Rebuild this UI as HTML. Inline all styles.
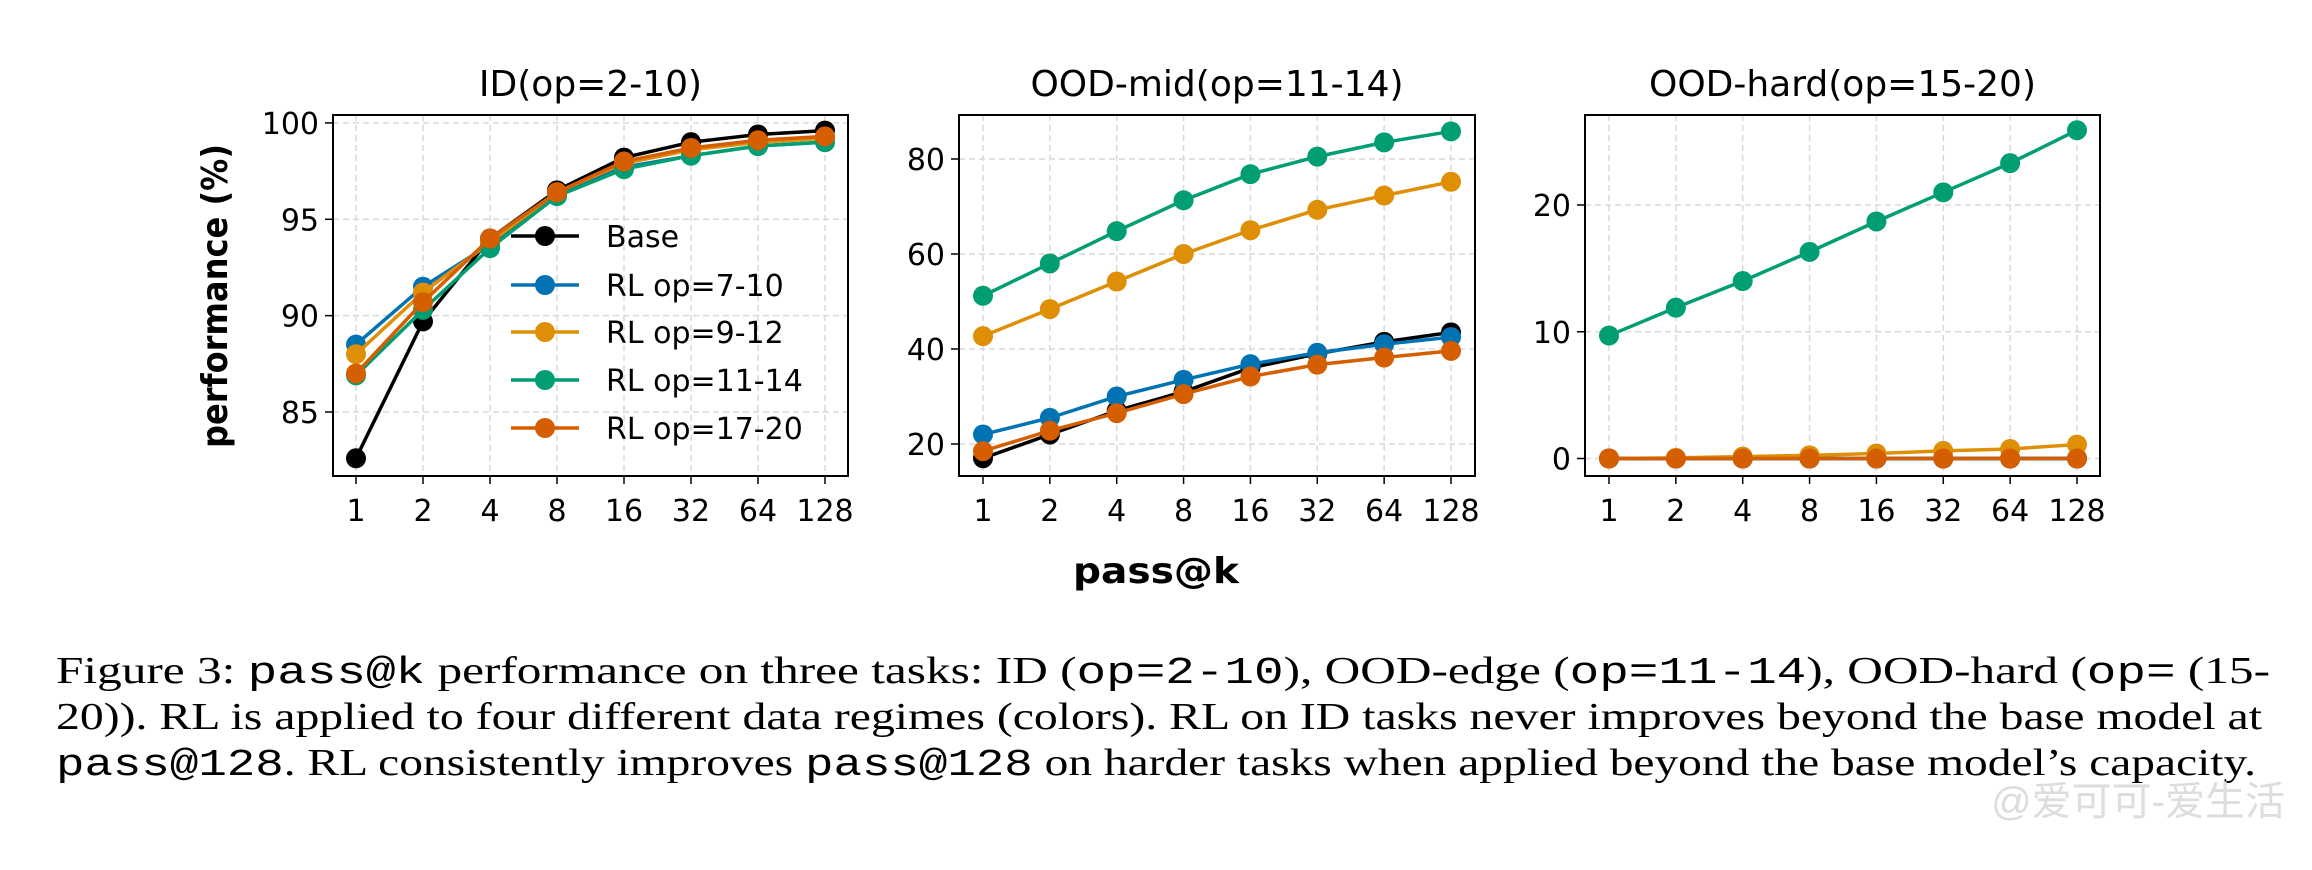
<!DOCTYPE html>
<html><head><meta charset="utf-8">
<style>
html,body{margin:0;padding:0;background:#fff;}
svg{display:block;}
.tick{font-family:"DejaVu Sans","Liberation Sans",sans-serif;font-size:30px;fill:#000;}
.ttl{font-family:"DejaVu Sans","Liberation Sans",sans-serif;font-size:36px;fill:#000;}
.cap{font-family:"Liberation Serif",serif;font-size:38px;fill:#000;}
.mono{font-family:"Liberation Mono",monospace;}
</style></head>
<body>
<svg id="fig" width="2312" height="870" viewBox="0 0 2312 870" xmlns="http://www.w3.org/2000/svg">
<g id="plots"></g>
<text class="ttl" x="1156" y="583" text-anchor="middle" font-weight="bold" font-size="32" textLength="166" lengthAdjust="spacingAndGlyphs">pass@k</text>
<text class="ttl" transform="translate(227,296) rotate(-90)" text-anchor="middle" font-weight="bold" font-size="28" textLength="304" lengthAdjust="spacingAndGlyphs">performance (%)</text>
<text class="cap" x="56" y="683" textLength="2214" lengthAdjust="spacingAndGlyphs">Figure 3: <tspan class="mono">pass@k</tspan> performance on three tasks: ID (<tspan class="mono">op=2-10</tspan>), OOD-edge (<tspan class="mono">op=11-14</tspan>), OOD-hard (<tspan class="mono">op=</tspan> (15-</text>
<text class="cap" x="56" y="729" textLength="2206" lengthAdjust="spacingAndGlyphs">20)). RL is applied to four different data regimes (colors). RL on ID tasks never improves beyond the base model at</text>
<text class="cap" x="56" y="775" textLength="2200" lengthAdjust="spacingAndGlyphs"><tspan class="mono">pass@128</tspan>. RL consistently improves <tspan class="mono">pass@128</tspan> on harder tasks when applied beyond the base model’s capacity.</text>
<text x="2285" y="815" text-anchor="end" font-family="'Liberation Sans','Noto Sans CJK SC',sans-serif" font-size="40" fill="#ddd">@爱可可-爱生活</text>
</svg>
<script>
const kLabels = ["1","2","4","8","16","32","64","128"];
const seriesNames = ["Base","RL op=7-10","RL op=9-12","RL op=11-14","RL op=17-20"];
const seriesColors = ["#000000","#0173b2","#de8f05","#029e73","#d55e00"];
const idBase = [82.6,89.7,94.0,96.5,98.2,99.0,99.4,99.6];
const idRL710 = [88.5,91.5,93.7,96.3,97.7,98.3,98.8,99.0];
const idRL912 = [88.0,91.2,93.8,96.4,97.9,98.6,99.0,99.2];
const idRL1114 = [86.9,90.3,93.5,96.2,97.6,98.3,98.8,99.0];
const idRL1720 = [87.0,90.7,94.0,96.4,98.0,98.7,99.1,99.3];
const midBase = [17,22,27,31,36,39,41.5,43.5];
const midRL710 = [22,25.5,30,33.5,36.8,39.2,41,42.5];
const midRL912 = [42.7,48.4,54.2,60,65,69.3,72.3,75.2];
const midRL1114 = [51.2,58,64.8,71.3,76.8,80.5,83.5,85.8];
const midRL1720 = [18.5,22.8,26.5,30.5,34.2,36.7,38.2,39.6];
const hardBase = [0,0,0,0,0,0,0,0];
const hardRL710 = [0,0,0,0,0,0,0,0];
const hardRL912 = [0,0.05,0.15,0.25,0.4,0.6,0.75,1.1];
const hardRL1114 = [9.7,11.9,14,16.3,18.7,21,23.3,25.9];
const hardRL1720 = [0,0,0,0,0,0,0,0];
const idTicks = [85,90,95,100];
const midTicks = [20,40,60,80];
const hardTicks = [0,10,20];

const NS="http://www.w3.org/2000/svg";
const root=document.getElementById('plots');
function mk(tag,attrs,parent){const e=document.createElementNS(NS,tag);for(const k in attrs)e.setAttribute(k,attrs[k]);(parent||root).appendChild(e);return e;}

const panels=[
 {name:"id",title:"ID(op=2-10)",L:333,R:848,T:115,B:476,x0:356,x1:825,ymin:81.68,ymax:100.41,ticks:idTicks,data:[idBase,idRL710,idRL912,idRL1114,idRL1720]},
 {name:"ood-mid",title:"OOD-mid(op=11-14)",L:959,R:1475,T:115,B:476,x0:983,x1:1451,ymin:13.26,ymax:89.26,ticks:midTicks,data:[midBase,midRL710,midRL912,midRL1114,midRL1720]},
 {name:"ood-hard",title:"OOD-hard(op=15-20)",L:1585,R:2100,T:115,B:476,x0:1609,x1:2077,ymin:-1.38,ymax:27.1,ticks:hardTicks,data:[hardBase,hardRL710,hardRL912,hardRL1114,hardRL1720]}
];
panels.forEach(p=>{
 const g=mk('g',{});
 
 
 const xs=i=>p.x0+(p.x1-p.x0)*i/(kLabels.length-1);
 const ys=v=>p.B-(v-p.ymin)/(p.ymax-p.ymin)*(p.B-p.T);
 kLabels.forEach((lab,i)=>{
  const x=xs(i);
  const gl=mk('line',{x1:x,x2:x,y1:p.T,y2:p.B,stroke:'#d9d9d9','stroke-width':1.5,'stroke-dasharray':'6,4'},g);
  
  
  mk('line',{x1:x,x2:x,y1:p.B,y2:p.B+8,stroke:'#000','stroke-width':1.5},g);
  const t=mk('text',{x:x,y:p.B+45,'text-anchor':'middle',class:'tick'},g);
  t.textContent=lab;
  
  
 });
 p.ticks.forEach(v=>{
  const y=ys(v);
  const gl=mk('line',{x1:p.L,x2:p.R,y1:y,y2:y,stroke:'#d9d9d9','stroke-width':1.5,'stroke-dasharray':'6,4'},g);
  
  
  mk('line',{x1:p.L-8,x2:p.L,y1:y,y2:y,stroke:'#000','stroke-width':1.5},g);
  const t=mk('text',{x:p.L-14,y:y+11,'text-anchor':'end',class:'tick'},g);
  t.textContent=v;
  
  
 });
 p.data.forEach((arr,si)=>{
  const sg=mk('g',{},g);
  
  
  const pts=arr.map((v,i)=>xs(i)+','+ys(v)).join(' ');
  mk('polyline',{points:pts,fill:'none',stroke:seriesColors[si],'stroke-width':3.5},sg);
  arr.forEach((v,i)=>{
   const c=mk('circle',{cx:xs(i),cy:ys(v),r:10,fill:seriesColors[si]},sg);
   
   
  });
 });
 const fr=mk('rect',{x:p.L,y:p.T,width:p.R-p.L,height:p.B-p.T,fill:'none',stroke:'#000','stroke-width':2},g);
 
 
 const tt=mk('text',{x:(p.L+p.R)/2,y:96,'text-anchor':'middle',class:'ttl'},g);
 tt.textContent=p.title;
 
 
});
// legend
const lg=mk('g',{});


const legY=[236,285,332,380,428];
seriesNames.forEach((n,i)=>{
 const e=mk('g',{},lg);
 
 
 mk('line',{x1:511,x2:579,y1:legY[i],y2:legY[i],stroke:seriesColors[i],'stroke-width':3.5},e);
 mk('circle',{cx:545,cy:legY[i],r:10,fill:seriesColors[i]},e);
 const t=mk('text',{x:606,y:legY[i]+11,class:'tick'},e);
 t.textContent=n;
});
</script>
</body></html>
